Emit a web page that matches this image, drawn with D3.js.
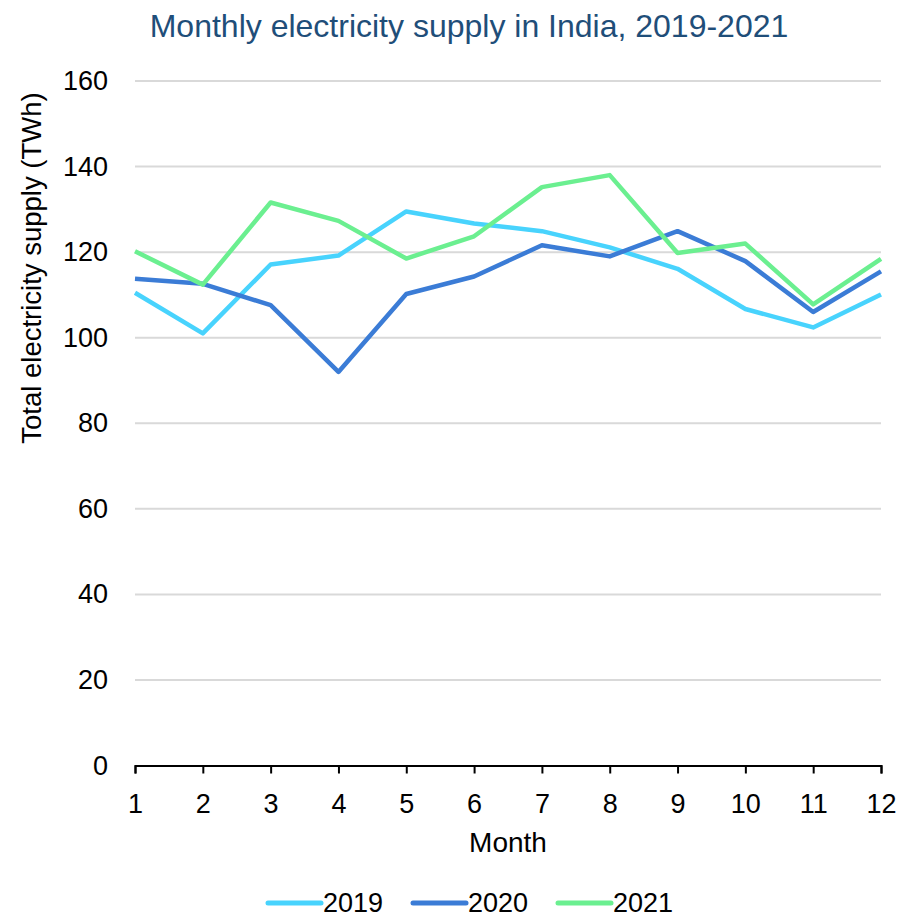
<!DOCTYPE html>
<html><head><meta charset="utf-8">
<script src="https://cdn.jsdelivr.net/npm/d3@7"></script>
<style>body{margin:0;background:#fff;} text{font-family:"Liberation Sans",Arial,sans-serif;}</style>
</head><body>
<svg id="c" width="899" height="918"></svg>
<script>
const months = [1,2,3,4,5,6,7,8,9,10,11,12];
const years = ["2019","2020","2021"];
const v2019 = [110.5,101.0,117.1,119.2,129.5,126.7,124.9,121.1,116.1,106.7,102.4,110.1];
const v2020 = [113.8,112.6,107.6,92.0,110.2,114.3,121.6,119.0,124.9,117.9,106.0,115.5];
const v2021 = [120.2,112.4,131.6,127.3,118.5,123.7,135.2,138.0,119.8,122.0,107.8,118.4];
const colors = ["#48d3fd","#3b7cd6","#6bef90"];
const yTicks = [0,20,40,60,80,100,120,140,160];
const series = [v2019,v2020,v2021];

const svg = d3.select("#c");
const x = d3.scaleLinear().domain([1,12]).range([135,881]);
const y = d3.scaleLinear().domain([0,160]).range([765.5,81]);

svg.append("text").attr("x",469).attr("y",37).attr("text-anchor","middle")
  .attr("font-size",32).attr("fill","#1f4e79").text("Monthly electricity supply in India, 2019-2021");

// gridlines
svg.append("g").selectAll("line").data(yTicks.filter(d=>d>0)).join("line")
  .attr("x1",135).attr("x2",881).attr("y1",d=>y(d)).attr("y2",d=>y(d))
  .attr("stroke","#d9d9d9").attr("stroke-width",2);

// y axis labels
svg.append("g").selectAll("text").data(yTicks).join("text")
  .attr("x",108).attr("y",d=>y(d)+9).attr("text-anchor","end")
  .attr("font-size",27).attr("fill","#000").text(d=>d);

// x axis
const xAxis = svg.append("g").attr("transform","translate(0,765.5)")
  .call(d3.axisBottom(x).tickValues(months).tickSize(8).tickPadding(0).tickFormat(d3.format("d")));
xAxis.select(".domain").attr("stroke","#000").attr("stroke-width",2);
xAxis.selectAll(".tick line").attr("stroke","#000").attr("stroke-width",2);
xAxis.selectAll(".tick text").attr("font-size",27).attr("fill","#000")
  .attr("font-family","Liberation Sans, Arial, sans-serif").attr("dy",null).attr("y",47);

// titles
svg.append("text").attr("transform","translate(41,268) rotate(-90)").attr("text-anchor","middle")
  .attr("font-size",27.5).attr("fill","#000").text("Total electricity supply (TWh)");
svg.append("text").attr("x",508).attr("y",852).attr("text-anchor","middle")
  .attr("font-size",28).attr("fill","#000").text("Month");

// lines
const line = d3.line().x((d,i)=>x(months[i])).y(d=>y(d));
svg.append("g").selectAll("path").data(series).join("path")
  .attr("d",line).attr("fill","none").attr("stroke",(d,i)=>colors[i])
  .attr("stroke-width",4.5).attr("stroke-linejoin","round");

// legend
const lg = svg.append("g").selectAll("g").data(years).join("g")
  .attr("transform",(d,i)=>`translate(${268+i*145},903)`);
lg.append("line").attr("x1",0).attr("x2",53).attr("y1",0).attr("y2",0)
  .attr("stroke",(d,i)=>colors[i]).attr("stroke-width",5).attr("stroke-linecap","round");
lg.append("text").attr("x",55).attr("y",9).attr("font-size",27).attr("fill","#000").text(d=>d);
</script>
</body></html>
